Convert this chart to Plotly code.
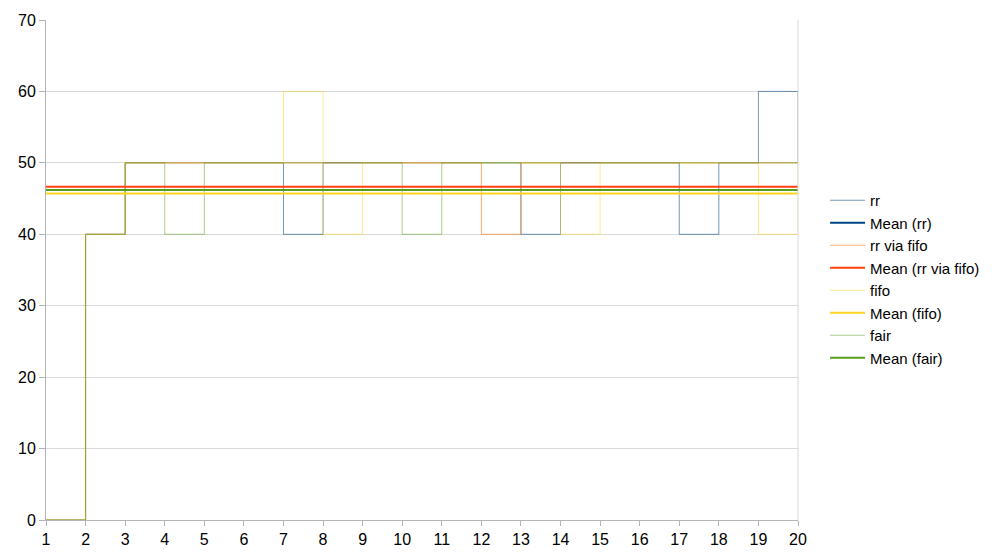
import plotly.graph_objects as go

x_values = list(range(1, 21))
rr = [0, 40, 50, 50, 50, 50, 40, 50, 50, 50, 50, 50, 40, 50, 50, 50, 40, 50, 60, 50]
rr_via_fifo = [0, 40, 50, 50, 50, 50, 50, 50, 50, 50, 50, 40, 50, 50, 50, 50, 50, 50, 50, 50]
fifo = [0, 40, 50, 50, 50, 50, 60, 40, 50, 50, 50, 50, 50, 40, 50, 50, 50, 50, 40, 50]
fair = [0, 40, 50, 40, 50, 50, 50, 50, 50, 40, 50, 50, 50, 50, 50, 50, 50, 50, 50, 50]

# mean line levels
mean_rr = 46.19
mean_rr_via_fifo = 46.67
mean_fifo = 45.71
mean_fair = 46.19

series_names = ["rr", "rr via fifo", "fifo", "fair"]
series_data = [rr, rr_via_fifo, fifo, fair]
mean_names = ["Mean (rr)", "Mean (rr via fifo)", "Mean (fifo)", "Mean (fair)"]
mean_values = [mean_rr, mean_rr_via_fifo, mean_fifo, mean_fair]

line_colors = ["rgba(0,69,134,0.55)", "rgba(255,120,14,0.6)", "rgba(255,211,32,0.5)", "rgba(87,157,28,0.5)"]
mean_colors = ["#004586", "#ff420e", "#ffd320", "#579d1c"]

fig = go.Figure()
for i, (name, data) in enumerate(zip(series_names, series_data)):
    fig.add_trace(go.Scatter(
        x=x_values, y=data, name=name, mode="lines",
        line=dict(color=line_colors[i], width=1, shape="hv"),
        legendrank=2 * i + 1,
    ))
for i, (name, m) in enumerate(zip(mean_names, mean_values)):
    fig.add_trace(go.Scatter(
        x=[x_values[0], x_values[-1]], y=[m, m], name=name, mode="lines",
        line=dict(color=mean_colors[i], width=2),
        legendrank=2 * i + 2,
    ))

fig.add_shape(type="line", xref="x domain", yref="y domain", x0=1, x1=1, y0=0, y1=1,
              line=dict(color="#d9d9d9", width=1))

# page body has an 8px margin, so the figure is sized to fit the 993x559 window
fig.update_layout(
    width=985, height=551,
    margin=dict(l=38, r=195, t=12, b=39, autoexpand=False),
    paper_bgcolor="white", plot_bgcolor="white",
    font=dict(family="Liberation Sans", size=15, color="#000000"),
    showlegend=True,
    legend=dict(x=1.036, xanchor="left", y=0.482, yanchor="middle",
                font=dict(size=15), tracegroupgap=0, itemwidth=35,
                bgcolor="rgba(0,0,0,0)"),
)
fig.update_xaxes(
    range=[1, 20], tickmode="array", tickvals=x_values, ticktext=[str(v) for v in x_values],
    showgrid=False, zeroline=False, showline=True, linecolor="#b3b3b3", linewidth=1,
    ticks="outside", ticklen=5, tickcolor="#b3b3b3", tickfont=dict(size=16),
    automargin=False,
)
fig.update_yaxes(
    range=[0, 70], tickmode="array", tickvals=list(range(0, 71, 10)),
    showgrid=True, gridcolor="#d9d9d9", gridwidth=1, zeroline=False,
    showline=True, linecolor="#b3b3b3", linewidth=1,
    ticks="outside", ticklen=6, tickcolor="#b3b3b3", tickfont=dict(size=16),
    automargin=False,
)

fig.write_html("out.html")
